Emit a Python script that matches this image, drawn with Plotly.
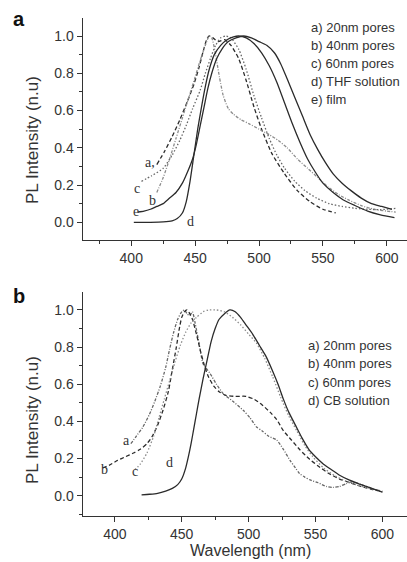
import plotly.graph_objects as go

# ---------------- Panel a data ----------------
a_a_x = [420, 426, 432, 438, 444, 449, 453, 456, 459, 461, 464, 468, 473, 478, 484, 490, 496, 502, 510, 520, 530, 540, 550, 560]
a_a_y = [0.31, 0.38, 0.46, 0.55, 0.65, 0.74, 0.83, 0.91, 0.98, 1.0, 0.99, 0.97, 0.98, 0.95, 0.88, 0.76, 0.62, 0.50, 0.37, 0.26, 0.17, 0.11, 0.07, 0.05]

a_b_x = [420, 425, 430, 435, 440, 445, 450, 454, 458, 461, 463, 466, 469, 472, 476, 480, 486, 492, 500, 508, 515, 522, 530, 538, 546, 554, 562, 570, 580, 590, 600, 607]
a_b_y = [0.16, 0.24, 0.34, 0.45, 0.56, 0.67, 0.78, 0.87, 0.95, 1.0, 0.99, 0.90, 0.78, 0.68, 0.61, 0.58, 0.55, 0.53, 0.50, 0.47, 0.44, 0.40, 0.34, 0.29, 0.24, 0.19, 0.15, 0.12, 0.09, 0.07, 0.06, 0.055]

a_c_x = [408, 416, 425, 432, 438, 443, 448, 454, 458, 462, 466, 470, 474, 478, 484, 490, 496, 502, 508, 514, 520, 528, 536, 545, 555, 565, 575, 585, 595, 607]
a_c_y = [0.22, 0.25, 0.29, 0.36, 0.44, 0.52, 0.61, 0.71, 0.80, 0.88, 0.95, 0.99, 1.0, 0.99, 0.93, 0.82, 0.68, 0.56, 0.45, 0.36, 0.29, 0.22, 0.17, 0.13, 0.10, 0.085, 0.075, 0.07, 0.068, 0.075]

a_d_x = [402, 415, 425, 432, 436, 440, 443, 446, 449, 452, 455, 458, 461, 465, 470, 475, 480, 484, 490, 496, 502, 508, 514, 520, 526, 532, 538, 544, 550, 558, 566, 575, 585, 595, 606]
a_d_y = [0.0, 0.0, 0.002, 0.008, 0.02, 0.05, 0.11, 0.22, 0.36, 0.50, 0.62, 0.73, 0.82, 0.90, 0.95, 0.98, 0.995, 1.0, 0.99, 0.96, 0.91, 0.84, 0.75, 0.64, 0.53, 0.43, 0.34, 0.27, 0.21, 0.16, 0.12, 0.09, 0.06, 0.04, 0.025]

a_e_x = [405, 410, 415, 420, 425, 430, 435, 440, 444, 448, 451, 454, 457, 460, 463, 467, 471, 476, 482, 488, 494, 500, 506, 512, 517, 522, 528, 534, 540, 546, 552, 558, 565, 572, 580, 588, 596, 604]
a_e_y = [0.055, 0.06, 0.07, 0.085, 0.10, 0.13, 0.16, 0.21, 0.27, 0.34, 0.42, 0.52, 0.62, 0.72, 0.80, 0.88, 0.93, 0.97, 0.99, 1.0, 0.99, 0.97, 0.95, 0.91, 0.85, 0.77, 0.67, 0.57, 0.47, 0.39, 0.32, 0.26, 0.21, 0.17, 0.13, 0.10, 0.085, 0.07]

a_legend = ["a) 20nm pores", "b) 40nm pores", "c) 60nm pores", "d) THF solution", "e) film"]
a_curve_labels = ["a,", "c", "b", "e", "d"]
a_label_x = [415, 404.5, 417, 404, 446]
a_label_y = [0.32, 0.18, 0.115, 0.057, 0.003]

# ---------------- Panel b data ----------------
b_a_x = [412, 416, 421, 426, 430, 434, 438, 441, 444, 447, 450, 452, 454, 456, 458, 460, 463, 466, 471, 476, 481, 488, 496, 501, 506, 510, 515, 521, 526, 531, 535, 538, 542, 546, 552, 558, 563, 568, 573, 578, 584, 590, 595, 600]
b_a_y = [0.28, 0.32, 0.37, 0.44, 0.51, 0.59, 0.69, 0.79, 0.88, 0.95, 0.99, 1.0, 0.98, 0.97, 0.99, 0.93, 0.82, 0.71, 0.66, 0.60, 0.55, 0.51, 0.46, 0.42, 0.37, 0.35, 0.32, 0.30, 0.25, 0.19, 0.15, 0.12, 0.10, 0.085, 0.07, 0.05, 0.045, 0.05, 0.065, 0.075, 0.06, 0.045, 0.03, 0.02]

b_b_x = [391, 396, 402, 408, 414, 419, 424, 428, 432, 436, 440, 443, 446, 448, 450, 452, 454, 456, 458, 461, 464, 467, 470, 474, 478, 483, 490, 498, 504, 510, 516, 521, 526, 532, 538, 545, 552, 560, 568, 576, 584, 592, 600]
b_b_y = [0.15, 0.165, 0.19, 0.21, 0.23, 0.25, 0.28, 0.32, 0.38, 0.46, 0.56, 0.68, 0.80, 0.89, 0.96, 0.99, 1.0, 0.98, 0.95, 0.87, 0.78, 0.70, 0.64, 0.59, 0.56, 0.54, 0.535, 0.535, 0.52, 0.49, 0.45, 0.41, 0.35, 0.30, 0.25, 0.20, 0.16, 0.12, 0.09, 0.07, 0.05, 0.035, 0.025]

b_c_x = [415, 419, 424, 429, 433, 437, 441, 445, 449, 453, 457, 461, 466, 470, 476, 482, 488, 494, 500, 506, 512, 518, 524, 530, 536, 542, 548, 556, 564, 572, 580, 590, 600]
b_c_y = [0.14, 0.17, 0.23, 0.32, 0.42, 0.52, 0.62, 0.72, 0.81, 0.88, 0.93, 0.96, 0.99, 1.0, 1.0, 0.99, 0.96, 0.92, 0.87, 0.82, 0.74, 0.64, 0.53, 0.43, 0.35, 0.27, 0.21, 0.15, 0.11, 0.08, 0.06, 0.04, 0.025]

b_d_x = [420, 426, 432, 438, 443, 447, 450, 453, 455, 457, 459, 461, 463, 466, 469, 472, 475, 478, 482, 486, 490, 494, 498, 503, 508, 513, 518, 522, 526, 530, 535, 540, 545, 550, 556, 562, 568, 575, 582, 590, 600]
b_d_y = [0.005, 0.008, 0.013, 0.025, 0.04, 0.06, 0.09, 0.15, 0.21, 0.28, 0.36, 0.44, 0.52, 0.63, 0.73, 0.83, 0.90, 0.95, 0.98, 1.0, 0.99, 0.96, 0.92, 0.87, 0.81, 0.75, 0.67, 0.60, 0.52, 0.45, 0.38, 0.31, 0.25, 0.21, 0.17, 0.14, 0.11, 0.085, 0.065, 0.045, 0.02]

b_legend = ["a) 20nm pores", "b) 40nm pores", "c) 60nm pores", "d) CB solution"]
b_curve_labels = ["a", "b", "c", "d"]
b_label_x = [409, 392.5, 415, 441]
b_label_y = [0.30, 0.14, 0.13, 0.18]

tick_vals_x = [400, 450, 500, 550, 600]
tick_vals_y = [0.0, 0.2, 0.4, 0.6, 0.8, 1.0]

W, H = 407, 562
DARK = "#2b2b2b"
GRAY = "#8c8c8c"
MID = "#666666"

fig = go.Figure()

def add(x, y, xa, ya, color, dash, width=1.3):
    fig.add_trace(go.Scatter(x=x, y=y, mode="lines", xaxis=xa, yaxis=ya,
                             line=dict(color=color, dash=dash, width=width, shape="spline", smoothing=0.6),
                             showlegend=False, hoverinfo="skip"))

# panel a
add(a_a_x, a_a_y, "x", "y", DARK, "4px,2.5px")
add(a_b_x, a_b_y, "x", "y", GRAY, "3px,1.5px,1px,1.5px")
add(a_c_x, a_c_y, "x", "y", MID, "1.5px,2px")
add(a_d_x, a_d_y, "x", "y", DARK, "solid")
add(a_e_x, a_e_y, "x", "y", DARK, "solid")
# panel b
add(b_a_x, b_a_y, "x2", "y2", MID, "3px,1.5px,1px,1.5px")
add(b_b_x, b_b_y, "x2", "y2", DARK, "4px,2.5px")
add(b_c_x, b_c_y, "x2", "y2", GRAY, "1.5px,2px")
add(b_d_x, b_d_y, "x2", "y2", DARK, "solid")

def px_x(p):
    return p / W

def px_y(p):
    return 1 - p / H

axis_common = dict(showline=True, linecolor="#333", linewidth=1.4, ticks="outside",
                   ticklen=5, tickwidth=1.2, tickcolor="#333", showgrid=False, zeroline=False,
                   tickfont=dict(family="Liberation Sans, Arial", size=14, color="#333"))

xdom = [px_x(82.7), 1.0]
fig.update_layout(
    width=W, height=H, margin=dict(l=0, r=0, t=0, b=0),
    paper_bgcolor="white", plot_bgcolor="white",
    xaxis=dict(domain=xdom, range=[362, 615.8], anchor="y", tickvals=tick_vals_x,
               minor=dict(dtick=25, tick0=400, ticklen=3, ticks="outside", tickcolor="#333"), **axis_common),
    yaxis=dict(domain=[px_y(240), px_y(18.3)], range=[-0.095, 1.095], anchor="x",
               tickvals=tick_vals_y, tickformat=".1f",
               minor=dict(dtick=0.1, tick0=0, ticklen=3, ticks="outside", tickcolor="#333"), **axis_common),
    xaxis2=dict(domain=xdom, range=[376, 618.4], anchor="y2", tickvals=tick_vals_x,
                minor=dict(dtick=25, tick0=400, ticklen=3, ticks="outside", tickcolor="#333"), **axis_common),
    yaxis2=dict(domain=[px_y(516), px_y(292.3)], range=[-0.109, 1.095], anchor="x2",
                tickvals=tick_vals_y, tickformat=".1f",
                minor=dict(dtick=0.1, tick0=0, ticklen=3, ticks="outside", tickcolor="#333"), **axis_common),
)

ann = []
sans = "Liberation Sans, Arial"
serif = "Liberation Serif, Times New Roman"
# panel letters
ann.append(dict(text="<b>a</b>", x=px_x(19), y=px_y(19), xref="paper", yref="paper",
                xanchor="center", yanchor="middle", showarrow=False,
                font=dict(family=sans, size=20, color="#111")))
ann.append(dict(text="<b>b</b>", x=px_x(19), y=px_y(296), xref="paper", yref="paper",
                xanchor="center", yanchor="middle", showarrow=False,
                font=dict(family=sans, size=20, color="#111")))
# y titles
for cy in (140, 420):
    ann.append(dict(text="PL Intensity (n.u)", x=px_x(32), y=px_y(cy), xref="paper", yref="paper",
                    xanchor="center", yanchor="middle", textangle=-90, showarrow=False,
                    font=dict(family=sans, size=17, color="#333")))
# x title (panel b)
ann.append(dict(text="Wavelength (nm)", x=px_x(250), y=px_y(561), xref="paper", yref="paper",
                xanchor="center", yanchor="bottom", showarrow=False,
                font=dict(family=sans, size=16, color="#333")))
# legends
for i, t in enumerate(a_legend):
    ann.append(dict(text=t, x=px_x(309), y=px_y(27 + 18 * i), xref="paper", yref="paper",
                    xanchor="left", yanchor="middle", showarrow=False,
                    font=dict(family=sans, size=13, color="#333")))
for i, t in enumerate(b_legend):
    ann.append(dict(text=t, x=px_x(306), y=px_y(345 + 18.5 * i), xref="paper", yref="paper",
                    xanchor="left", yanchor="middle", showarrow=False,
                    font=dict(family=sans, size=13, color="#333")))
# curve labels
for t, x, y in zip(a_curve_labels, a_label_x, a_label_y):
    ann.append(dict(text=t, x=x, y=y, xref="x", yref="y", xanchor="center", yanchor="middle",
                    showarrow=False, font=dict(family=serif, size=14, color="#333")))
for t, x, y in zip(b_curve_labels, b_label_x, b_label_y):
    ann.append(dict(text=t, x=x, y=y, xref="x2", yref="y2", xanchor="center", yanchor="middle",
                    showarrow=False, font=dict(family=serif, size=14, color="#333")))

fig.update_layout(annotations=ann)
fig.write_html("out.html")
